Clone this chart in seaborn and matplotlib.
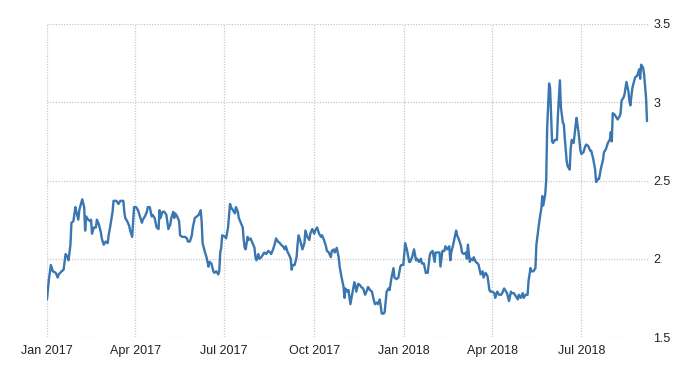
import matplotlib
matplotlib.use("Agg")
import matplotlib.pyplot as plt
import seaborn as sns
import pandas as pd

# ---- data ----
start_date = "2017-01-01"
day_offset = [
    0, 2, 4, 6, 9, 11, 12, 15, 17, 19, 21, 22, 24, 25, 27, 29, 30, 32, 33, 36,
    38, 39, 40, 42, 44, 45, 46, 48, 50, 51, 53, 55, 56, 58, 60, 62, 63, 65, 67, 68,
    71, 72, 73, 75, 78, 79, 80, 82, 84, 85, 87, 89, 91, 93, 95, 97, 98, 100, 102, 103,
    105, 107, 108, 110, 112, 114, 115, 116, 118, 120, 122, 124, 126, 127, 129, 130, 131, 133, 135, 136,
    138, 141, 143, 144, 146, 148, 149, 151, 153, 155, 157, 158, 159, 161, 163, 165, 166, 168, 170, 171,
    173, 175, 176, 177, 178, 179, 182, 183, 185, 187, 188, 190, 192, 193, 195, 196, 198, 200, 201, 202,
    203, 205, 206, 208, 210, 212, 213, 214, 216, 217, 219, 221, 222, 224, 226, 228, 229, 231, 233, 234,
    236, 238, 239, 241, 243, 244, 246, 247, 249, 250, 251, 253, 255, 256, 257, 259, 261, 263, 264, 266,
    268, 269, 271, 273, 274, 276, 278, 280, 281, 283, 285, 286, 288, 290, 291, 293, 294, 296, 298, 299,
    301, 303, 304, 305, 307, 308, 310, 312, 314, 315, 316, 318, 320, 321, 323, 325, 327, 328, 330, 332,
    333, 335, 337, 338, 340, 342, 344, 345, 347, 349, 350, 352, 354, 355, 357, 359, 361, 362, 364, 366,
    368, 370, 371, 373, 375, 377, 378, 380, 382, 383, 385, 387, 389, 391, 392, 394, 396, 397, 399, 401,
    402, 404, 406, 407, 409, 411, 412, 413, 415, 418, 419, 421, 423, 424, 426, 428, 429, 430, 432, 433,
    435, 436, 438, 440, 441, 443, 445, 446, 448, 450, 452, 453, 455, 457, 458, 460, 462, 464, 465, 467,
    469, 470, 472, 474, 475, 477, 479, 481, 482, 484, 486, 487, 489, 491, 492, 494, 495, 497, 499, 500,
    501, 503, 505, 506, 507, 509, 510, 511, 513, 514, 516, 517, 519, 521, 522, 524, 525, 527, 528, 529,
    531, 532, 534, 535, 536, 538, 539, 540, 541, 543, 545, 546, 548, 550, 551, 553, 555, 556, 558, 560,
    561, 563, 564, 566, 568, 569, 571, 573, 575, 576, 577, 578, 580, 581, 583, 585, 586, 587, 589, 590,
    592, 594, 595, 596, 598, 600, 601, 603, 605, 606, 607, 609, 610, 612, 613,
]
yield_values = [
    1.74, 1.87, 1.96, 1.92, 1.91, 1.88, 1.90, 1.92, 1.93, 2.03, 2.01, 1.99, 2.09, 2.23, 2.24, 2.33, 2.30, 2.25, 2.31, 2.38,
    2.33, 2.18, 2.27, 2.25, 2.24, 2.25, 2.16, 2.20, 2.20, 2.25, 2.22, 2.17, 2.13, 2.09, 2.11, 2.10, 2.15, 2.22, 2.30, 2.37,
    2.37, 2.36, 2.35, 2.37, 2.37, 2.30, 2.26, 2.24, 2.21, 2.18, 2.14, 2.33, 2.33, 2.31, 2.27, 2.23, 2.25, 2.27, 2.30, 2.33,
    2.33, 2.27, 2.28, 2.26, 2.20, 2.19, 2.31, 2.26, 2.30, 2.30, 2.28, 2.19, 2.22, 2.26, 2.30, 2.26, 2.29, 2.27, 2.24, 2.15,
    2.14, 2.14, 2.13, 2.11, 2.11, 2.15, 2.20, 2.26, 2.27, 2.28, 2.31, 2.24, 2.10, 2.05, 2.01, 1.95, 1.98, 1.97, 1.92, 1.91,
    1.92, 1.90, 1.92, 2.04, 2.07, 2.15, 2.14, 2.13, 2.20, 2.35, 2.33, 2.31, 2.29, 2.33, 2.30, 2.26, 2.23, 2.20, 2.12, 2.07,
    2.06, 2.14, 2.12, 2.13, 2.10, 2.07, 2.01, 1.99, 2.03, 2.00, 2.01, 2.03, 2.04, 2.03, 2.05, 2.04, 2.03, 2.06, 2.10, 2.13,
    2.11, 2.10, 2.09, 2.08, 2.06, 2.08, 2.04, 2.03, 2.00, 1.93, 1.96, 1.96, 2.01, 2.09, 2.15, 2.11, 2.06, 2.10, 2.18, 2.14,
    2.12, 2.16, 2.19, 2.16, 2.18, 2.20, 2.16, 2.14, 2.15, 2.12, 2.08, 2.05, 2.04, 2.01, 2.05, 2.06, 2.04, 2.07, 2.01, 1.95,
    1.88, 1.82, 1.75, 1.81, 1.79, 1.80, 1.71, 1.78, 1.85, 1.83, 1.79, 1.84, 1.83, 1.82, 1.81, 1.77, 1.80, 1.82, 1.80, 1.79,
    1.76, 1.71, 1.72, 1.71, 1.74, 1.65, 1.65, 1.66, 1.79, 1.81, 1.80, 1.88, 1.94, 1.88, 1.87, 1.88, 1.95, 1.96, 1.96, 2.10,
    2.05, 1.98, 1.98, 2.01, 2.06, 1.99, 2.00, 1.98, 2.00, 1.97, 1.97, 1.91, 1.91, 2.02, 2.04, 2.05, 1.98, 2.04, 2.04, 2.04,
    1.95, 2.05, 2.05, 2.08, 2.06, 2.08, 1.99, 2.04, 2.09, 2.18, 2.15, 2.12, 2.08, 2.04, 2.03, 2.04, 2.00, 2.09, 1.98, 2.00,
    1.99, 2.01, 1.98, 1.97, 1.96, 1.90, 1.92, 1.88, 1.91, 1.89, 1.80, 1.79, 1.79, 1.78, 1.75, 1.79, 1.77, 1.77, 1.78, 1.81,
    1.79, 1.78, 1.73, 1.79, 1.78, 1.78, 1.76, 1.74, 1.77, 1.75, 1.78, 1.75, 1.77, 1.77, 1.86, 1.94, 1.92, 1.92, 1.94, 2.09,
    2.14, 2.24, 2.32, 2.40, 2.34, 2.41, 2.50, 2.84, 3.12, 3.09, 2.75, 2.74, 2.76, 2.76, 2.92, 3.14, 2.97, 2.87, 2.86, 2.77,
    2.62, 2.59, 2.57, 2.70, 2.76, 2.74, 2.79, 2.85, 2.90, 2.81, 2.69, 2.67, 2.68, 2.72, 2.73, 2.72, 2.69, 2.69, 2.64, 2.57,
    2.49, 2.51, 2.51, 2.58, 2.63, 2.68, 2.70, 2.74, 2.76, 2.81, 2.75, 2.93, 2.92, 2.91, 2.89, 2.91, 2.93, 3.01, 3.03, 3.05,
    3.13, 3.07, 3.01, 2.98, 3.09, 3.14, 3.16, 3.17, 3.21, 3.15, 3.24, 3.22, 3.18, 3.03, 2.88,
]
x_tick_dates = ["2017-01-01", "2017-04-01", "2017-07-01", "2017-10-01",
                "2018-01-01", "2018-04-01", "2018-07-01"]
x_tick_labels = ["Jan 2017", "Apr 2017", "Jul 2017", "Oct 2017",
                 "Jan 2018", "Apr 2018", "Jul 2018"]
y_ticks = [1.5, 2.0, 2.5, 3.0, 3.5]
y_tick_labels = ["1.5", "2", "2.5", "3", "3.5"]

df = pd.DataFrame({
    "date": pd.Timestamp(start_date) + pd.to_timedelta(day_offset, unit="D"),
    "value": yield_values,
})

sns.set_style("white")
plt.rcParams["font.family"] = ["Liberation Sans", "DejaVu Sans"]

fig = plt.figure(figsize=(7, 3.75), dpi=100)
ax = fig.add_axes([0.0671, 0.1013, 0.8600, 0.8347])

sns.lineplot(data=df, x="date", y="value", ax=ax, color="#3a76af",
             linewidth=1.7, estimator=None)

ax.set_xlim(pd.Timestamp(start_date), pd.Timestamp(start_date) + pd.Timedelta(days=615))
ax.set_ylim(1.5, 3.5)

ax.set_xticks(pd.to_datetime(x_tick_dates))
ax.set_xticklabels(x_tick_labels)
ax.set_yticks(y_ticks)
ax.set_yticklabels(y_tick_labels)
ax.yaxis.tick_right()

ax.grid(True, color="#c8c8c8", linestyle=(0, (1, 1.2)), linewidth=0.9)
for s in ax.spines.values():
    s.set_visible(False)
ax.tick_params(axis="both", length=0, labelsize=9, colors="#222222")
ax.tick_params(axis="x", pad=6)
ax.tick_params(axis="y", pad=3)
ax.set_xlabel("")
ax.set_ylabel("")

fig.savefig("out.png", dpi=100)
